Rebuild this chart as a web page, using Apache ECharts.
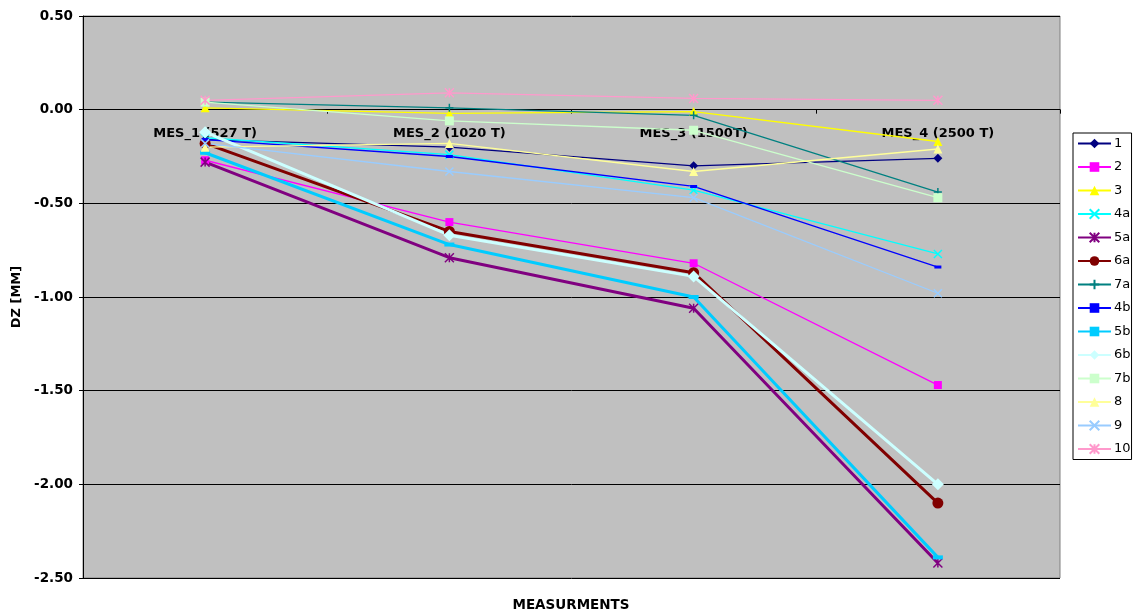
<!DOCTYPE html>
<html>
<head>
<meta charset="utf-8">
<script src="https://cdn.jsdelivr.net/npm/echarts@6/dist/echarts.min.js"></script>
<style>
html,body{margin:0;padding:0;background:#fff;}
#chart{width:1135px;height:613px;}
</style>
</head>
<body>
<div id="chart"></div>
<script>
const categories = ['MES_1 (527 T)', 'MES_2 (1020 T)', 'MES_3 (1500T)', 'MES_4 (2500 T)'];
const yTicks = [-2.5, -2.0, -1.5, -1.0, -0.5, 0.0, 0.5];
const seriesNames = ['1', '2', '3', '4a', '5a', '6a', '7a', '4b', '5b', '6b', '7b', '8', '9', '10'];
const s1  = [-0.16, -0.20, -0.30, -0.26];
const s2  = [-0.27, -0.60, -0.82, -1.47];
const s3  = [0.01, -0.02, -0.01, -0.17];
const s4a = [-0.15, -0.24, -0.43, -0.77];
const s5a = [-0.28, -0.79, -1.06, -2.42];
const s6a = [-0.18, -0.65, -0.87, -2.10];
const s7a = [0.04, 0.01, -0.03, -0.44];
const s4b = [-0.16, -0.25, -0.41, -0.84];
const s5b = [-0.23, -0.72, -1.00, -2.39];
const s6b = [-0.12, -0.67, -0.89, -2.00];
const s7b = [0.04, -0.06, -0.11, -0.47];
const s8  = [-0.20, -0.18, -0.33, -0.21];
const s9  = [-0.18, -0.33, -0.47, -0.98];
const s10 = [0.05, 0.09, 0.06, 0.05];
const seriesData = [s1, s2, s3, s4a, s5a, s6a, s7a, s4b, s5b, s6b, s7b, s8, s9, s10];

const X = 'path://M0,0L10,10M10,0L0,10';
const STAR = 'path://M0,0L10,10M10,0L0,10M5,0L5,10';
const PLUS = 'path://M5,0L5,10M0,5L10,5';
const FONT = '"DejaVu Sans", Arial, sans-serif';

const styles = [
  {c:'#000080', w:1.3, sym:'diamond', size:9},
  {c:'#FF00FF', w:1.3, sym:'rect', size:8},
  {c:'#FFFF00', w:1.3, sym:'triangle', size:9},
  {c:'#00FFFF', w:1.3, sym:X, size:8, stroke:true},
  {c:'#800080', w:3, sym:STAR, size:9, stroke:true},
  {c:'#800000', w:3, sym:'circle', size:11},
  {c:'#008080', w:1.3, sym:PLUS, size:8, stroke:true},
  {c:'#0000FF', w:1.3, sym:'rect', size:[7,3]},
  {c:'#00CCFF', w:3, sym:'rect', size:[10,4]},
  {c:'#CCFFFF', w:3, sym:'diamond', size:12},
  {c:'#CCFFCC', w:1.3, sym:'rect', size:9},
  {c:'#FFFF99', w:1.3, sym:'triangle', size:9},
  {c:'#99CCFF', w:1.3, sym:X, size:8, stroke:true},
  {c:'#FF99CC', w:1.3, sym:STAR, size:9, stroke:true}
];

const series = seriesNames.map((n, i) => {
  const st = styles[i];
  return {
    name: n,
    type: 'line',
    data: seriesData[i],
    color: st.c,
    symbol: st.sym,
    symbolSize: st.size,
    showAllSymbol: true,
    lineStyle: {color: st.c, width: st.w},
    itemStyle: st.stroke ? {color: 'rgba(0,0,0,0)', borderColor: st.c, borderWidth: 1.5}
                         : {color: st.c, borderWidth: 0},
    emphasis: {disabled: true},
    animation: false
  };
});

const gridTop = 16, gridBottom = 35, H = 613;
const plotH = H - gridTop - gridBottom;
const zeroOffset = plotH * (0 - yTicks[0]) / (yTicks[yTicks.length - 1] - yTicks[0]);

const chart = echarts.init(document.getElementById('chart'), null, {renderer: 'canvas'});
chart.setOption({
  backgroundColor: '#ffffff',
  animation: false,
  textStyle: {fontFamily: FONT},
  grid: {left: 83, right: 75, top: gridTop, bottom: gridBottom, show: true, backgroundColor: '#C0C0C0', borderColor: '#808080', borderWidth: 1},
  legend: {
    orient: 'vertical',
    left: 1073, top: 133,
    width: 60,
    borderColor: '#000', borderWidth: 1,
    padding: [4, 1, 4, 4],
    itemWidth: 33, itemHeight: 12, itemGap: 10.5,
    textStyle: {fontSize: 13, color: '#000', fontFamily: FONT, padding: [0, 0, 0, -2]},
    data: seriesNames
  },
  xAxis: {
    type: 'category',
    data: categories,
    boundaryGap: true,
    position: 'bottom',
    offset: -zeroOffset,
    axisLine: {onZero: false, lineStyle: {color: '#000', width: 1}},
    axisTick: {show: true, alignWithLabel: false, length: 4, lineStyle: {color: '#000'}},
    axisLabel: {fontSize: 13, fontWeight: 'bold', color: '#000', margin: 17, interval: 0, fontFamily: FONT},
    splitLine: {show: false}
  },
  yAxis: {
    type: 'value',
    min: yTicks[0], max: yTicks[yTicks.length - 1], interval: 0.5,
    name: 'DZ [MM]',
    nameLocation: 'middle',
    nameGap: 60,
    nameTextStyle: {fontSize: 13, fontWeight: 'bold', color: '#000', fontFamily: FONT},
    axisLine: {show: true, lineStyle: {color: '#000'}},
    axisTick: {show: true, length: 4, lineStyle: {color: '#000'}},
    axisLabel: {fontSize: 13.5, fontWeight: 'bold', color: '#000', margin: 10, fontFamily: FONT, formatter: v => v.toFixed(2)},
    splitLine: {show: true, lineStyle: {color: '#000', width: 1}}
  },
  graphic: [{
    type: 'text', x: 571, y: 605,
    style: {text: 'MEASURMENTS', fontSize: 13.5, fontWeight: 'bold', fill: '#000', fontFamily: FONT, align: 'center', verticalAlign: 'middle'}
  }],
  series: series
});
</script>
</body>
</html>
